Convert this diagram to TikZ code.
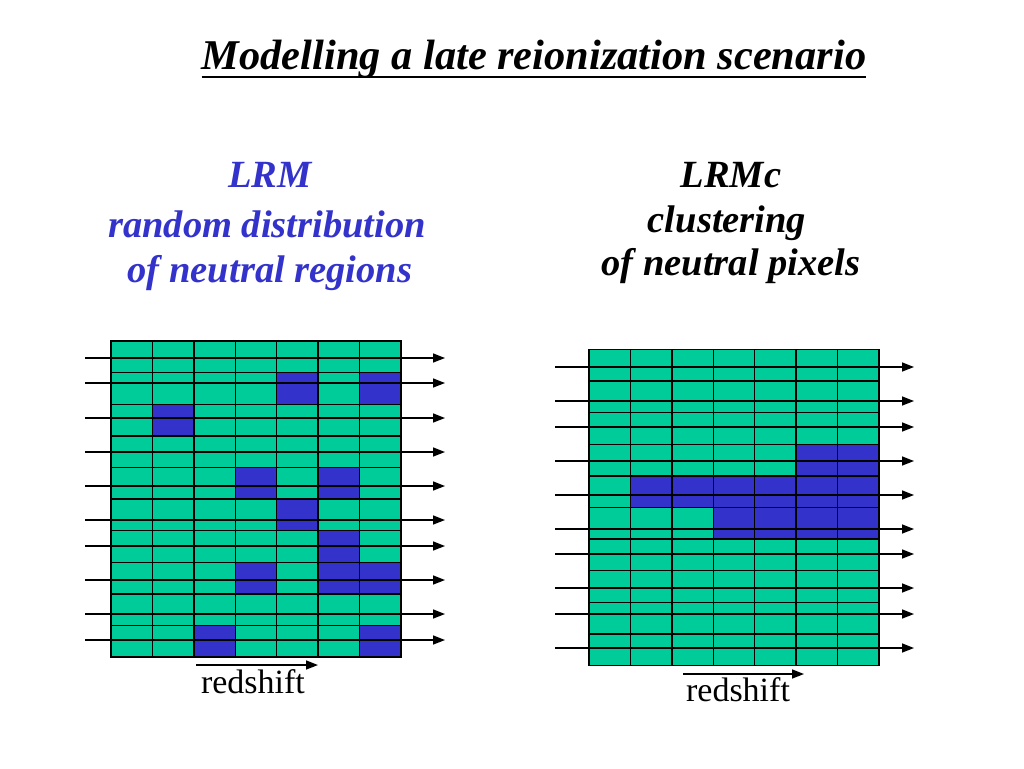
\documentclass[tikz,border=0pt]{standalone}
\usepackage{fontspec}
\setmainfont{Liberation Serif}
\usetikzlibrary{arrows.meta}
\definecolor{cgreen}{RGB}{0,204,153}
\definecolor{cblue}{RGB}{51,51,204}
\begin{document}
\begin{tikzpicture}[x=1pt,y=-1pt,
  cell/.style={draw=black,line width=1.4pt},
  ray/.style={line width=1.5pt,-{Triangle[length=12pt,width=9pt]}},
  ttl/.style={font=\fontsize{42.4}{46}\selectfont\bfseries\itshape,anchor=base,inner sep=0pt},
  head/.style={font=\fontsize{38.5}{42}\selectfont\bfseries\itshape,anchor=base,inner sep=0pt},
  lbl/.style={font=\fontsize{34}{38}\selectfont,anchor=base,inner sep=0pt}]
\useasboundingbox[fill=white] (0,0) rectangle (1024,768);
% title
\node[ttl] (title) at (534,70) {Modelling a late reionization scenario};
\draw[line width=2.6pt] ([yshift=-7pt]title.base west) -- ([yshift=-7pt]title.base east);
% headings
\node[head,text=cblue] (l1) at (270,187) {LRM};
\node[head,text=cblue] (l2) at (267,237) {random distribution};
\node[head,text=cblue] (l3) at (270,282) {of neutral regions};
\node[head] (r1) at (731,187) {LRMc};
\node[head] (r2) at (727,232) {clustering};
\node[head] (r3) at (731,275) {of neutral pixels};
% left grid
\def\cw{41.4}\def\ch{31.6}
\foreach \r in {0,...,9}{
  \foreach \c in {0,...,6}{
    \draw[cell,fill=cgreen] ({111+\c*\cw},{341+\r*\ch}) rectangle ++(\cw,\ch);
  }
}
\foreach \r/\c in {1/4,1/6,2/1,4/3,4/5,5/4,6/5,7/3,7/5,7/6,9/2,9/6}{
  \draw[cell,fill=cblue] ({111+\c*\cw},{341+\r*\ch}) rectangle ++(\cw,\ch);
}
\foreach \y [count=\i] in {358,383,418,452,486,520,546,580,614,640}{
  \coordinate (la\i) at (85,\y);
  \coordinate (lb\i) at (445,\y);
  \draw[ray] (la\i) -- (lb\i);
}
% right grid
\foreach \r in {0,...,9}{
  \foreach \c in {0,...,6}{
    \draw[cell,fill=cgreen] ({589+\c*\cw},{349.4+\r*\ch}) rectangle ++(\cw,\ch);
  }
}
\foreach \r/\c in {3/5,3/6,4/1,4/2,4/3,4/4,4/5,4/6,5/3,5/4,5/5,5/6}{
  \draw[cell,fill=cblue] ({589+\c*\cw},{349.4+\r*\ch}) rectangle ++(\cw,\ch);
}
\foreach \y [count=\i] in {367,401,427,461,495,529,554,588,614,648}{
  \coordinate (ra\i) at (555,\y);
  \coordinate (rb\i) at (914,\y);
  \draw[ray] (ra\i) -- (rb\i);
}
% redshift arrows
\coordinate (zl0) at (196,665); \coordinate (zl1) at (318,665);
\draw[ray] (zl0) -- (zl1);
\node[lbl] (zlt) at (253,693) {redshift};
\coordinate (zr0) at (683,674); \coordinate (zr1) at (804,674);
\draw[ray] (zr0) -- (zr1);
\node[lbl] (zrt) at (738,701) {redshift};
\end{tikzpicture}
\end{document}
